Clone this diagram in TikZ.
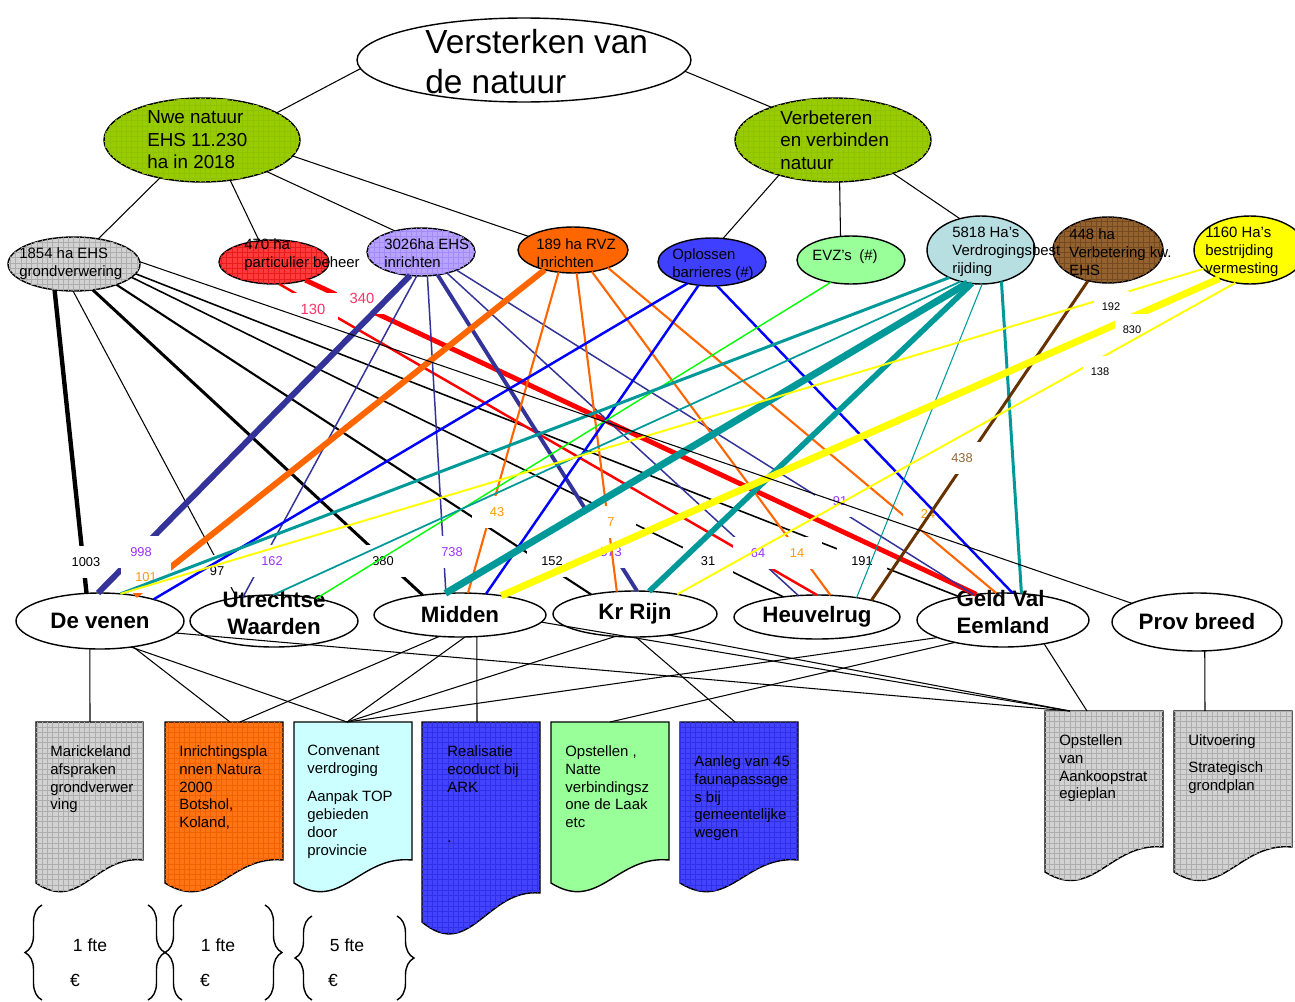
\documentclass[tikz,border=0pt]{standalone}
\usepackage{fontspec}
\setmainfont{Liberation Sans}
\usetikzlibrary{shapes.geometric,patterns,decorations.pathreplacing}

\definecolor{nwegreen}{HTML}{99CC00}
\definecolor{nwegrid}{HTML}{8FC200}
\definecolor{ehsgray}{HTML}{D2D2D2}
\definecolor{ehsgrid}{HTML}{ADADAD}
\definecolor{partred}{HTML}{FF3B3B}
\definecolor{partgrid}{HTML}{E81C1C}
\definecolor{inrpurple}{HTML}{B8A3FF}
\definecolor{inrgrid}{HTML}{A48CF8}
\definecolor{rvzorange}{HTML}{FF6600}
\definecolor{barrblue}{HTML}{3F3FFF}
\definecolor{evzgreen}{HTML}{99FF99}
\definecolor{verdblue}{HTML}{B7DFE2}
\definecolor{kwbrown}{HTML}{93622F}
\definecolor{kwgrid}{HTML}{764A20}
\definecolor{vermyellow}{HTML}{FFFF00}
\definecolor{docorange}{HTML}{FF7414}
\definecolor{docorgrid}{HTML}{F26200}
\definecolor{doccyan}{HTML}{CCFFFF}
\definecolor{docblue}{HTML}{4242FF}
\definecolor{docbluegrid}{HTML}{3030E6}
\definecolor{docgreen}{HTML}{99FF99}
\definecolor{lnpurple}{HTML}{333399}
\definecolor{lnorange}{HTML}{FF6600}
\definecolor{lnteal}{HTML}{009999}
\definecolor{lnbrown}{HTML}{663300}
\definecolor{lnblue}{HTML}{0000FF}
\definecolor{lngreen}{HTML}{00FF00}
\definecolor{lnyellow}{HTML}{FFFF00}
\definecolor{lbpurple}{HTML}{9933FF}
\definecolor{lborange}{HTML}{FF9900}
\definecolor{lbred}{HTML}{FF3366}
\definecolor{lbbrown}{HTML}{996633}

\tikzset{
  ell/.style={ellipse,draw=black,line width=0.8pt,inner sep=0pt,outer sep=0pt},
  hatch/.style={postaction={pattern=grid,pattern color=#1}},
  eltxt/.style={anchor=west,align=left,inner sep=0pt,font=\fontsize{8.5}{10.2}\selectfont},
  region/.style={ellipse,draw=black,fill=white,line width=0.8pt,inner sep=0pt,outer sep=0pt,font=\fontsize{12.7}{15.4}\selectfont\bfseries},
  lbl/.style={fill=white,minimum width=1cm,minimum height=0.64cm,inner sep=0pt,font=\fontsize{7.3}{8.5}\selectfont},
  ylbl/.style={lbl,minimum width=0.7cm,font=\fontsize{6.3}{7.5}\selectfont},
  doc/.style={draw=black,line width=0.8pt},
  doctxt/.style={anchor=north west,align=left,inner sep=0pt,font=\fontsize{8.5}{10.2}\selectfont},
  brace/.style={decorate,decoration={brace,amplitude=0.34cm},line width=0.8pt},
  fte/.style={inner sep=0pt,font=\fontsize{10}{12}\selectfont},
  link/.style={line width=0.6pt}
}

\begin{document}
\begin{tikzpicture}[x=0.02cm,y=-0.02cm]
\useasboundingbox (0,0) rectangle (1295,1001);

% doelen
\node[ell,fill=white,minimum width=6.68cm,minimum height=1.68cm] (versterken) at (524,60) {};
\node[ell,fill=nwegreen,hatch=nwegrid,minimum width=3.92cm,minimum height=1.68cm] (nwe) at (202,140) {};
\node[ell,fill=nwegreen,hatch=nwegrid,minimum width=3.92cm,minimum height=1.68cm] (verb) at (833,140) {};

% maatregelen
\node[ell,fill=ehsgray,hatch=ehsgrid,minimum width=2.64cm,minimum height=1.08cm] (ehs) at (74,264) {};
\node[ell,fill=partred,hatch=partgrid,minimum width=2.2cm,minimum height=0.88cm] (part) at (274,262) {};
\node[ell,fill=inrpurple,hatch=inrgrid,minimum width=2.16cm,minimum height=0.96cm] (inr) at (421,252) {};
\node[ell,fill=rvzorange,minimum width=2.2cm,minimum height=0.92cm] (rvz) at (573,250) {};
\node[ell,fill=barrblue,minimum width=2.16cm,minimum height=0.96cm] (barr) at (712,262) {};
\node[ell,fill=evzgreen,minimum width=2.16cm,minimum height=0.96cm] (evz) at (851,260) {};
\node[ell,fill=verdblue,minimum width=2.16cm,minimum height=1.36cm] (verd) at (981,250) {};
\node[ell,fill=kwbrown,hatch=kwgrid,minimum width=2.2cm,minimum height=1.32cm] (kw) at (1108,250) {};
\node[ell,fill=vermyellow,minimum width=2.24cm,minimum height=1.36cm] (verm) at (1250,250) {};

\node[eltxt,font=\fontsize{19}{22.8}\selectfont] (versterkentxt) at (425,62) {Versterken van\\de natuur};
\node[eltxt,font=\fontsize{10.7}{12.8}\selectfont] (nwetxt) at (147,140) {Nwe natuur\\EHS 11.230\\ha in 2018};
\node[eltxt,font=\fontsize{10.7}{12.8}\selectfont] (verbtxt) at (780,140) {Verbeteren\\en verbinden\\natuur};
\node[eltxt] (ehstxt) at (19,264) {1854 ha EHS\\grondverwering};
\node[eltxt] (parttxt) at (244,255) {470 ha\\particulier beheer};
\node[eltxt] (inrtxt) at (384,253) {3026ha EHS\\inrichten};
\node[eltxt] (rvztxt) at (536,253) {189 ha RVZ\\Inrichten};
\node[eltxt] (barrtxt) at (672,265) {Oplossen\\barrieres (\#)};
\node[eltxt] (evztxt) at (812,257) {EVZ’s\enspace(\#)};
\node[eltxt] (verdtxt) at (952,252) {5818 Ha’s\\Verdrogingsbest\\rijding};
\node[eltxt] (kwtxt) at (1069,252) {448 ha\\Verbetering kw.\\EHS};
\node[eltxt] (vermtxt) at (1205,252) {1160 Ha’s\\bestrijding\\vermesting};

\path[draw,link]
  (versterken.183) edge (nwe.20)
  (versterken.356) edge (verb.152)
  (nwe.222) edge (ehs.46)
  (nwe.305) edge (part.125)
  (nwe.334) edge (inr.141)
  (nwe.350) edge (rvz.163)
  (verb.213) edge (barr.65)
  (verb.279) edge (evz.114)
  (verb.331) edge (verd.124);

% gebieden
\node[region,minimum width=3.36cm,minimum height=1.12cm] (venen) at (100,621) {De venen};
\node[region,minimum width=3.36cm,minimum height=1.04cm] (utr) at (274,621) {\smash{\begin{tabular}{@{}c@{}}Utrechtse\\Waarden\end{tabular}}};
\node[region,minimum width=3.44cm,minimum height=0.88cm] (midden) at (460,615) {Midden};
\node[region,minimum width=3.28cm,minimum height=0.92cm] (krrijn) at (635,614) {Kr Rijn};
\node[region,minimum width=3.32cm,minimum height=0.88cm] (heuvel) at (817,617) {Heuvelrug};
\node[region,minimum width=3.44cm,minimum height=1.08cm] (geld) at (1003,620) {\smash{\begin{tabular}{@{}l@{}}Geld Val\\Eemland\end{tabular}}};
\node[region,minimum width=3.4cm,minimum height=1.16cm] (prov) at (1197,622) {Prov breed};

% grondverwerving
\path[draw,black]
  (ehs.233) edge[line width=2.5pt] (venen.116)
  (ehs.268) edge[line width=0.6pt] (utr.148)
  (ehs.306) edge[line width=1.7pt] (midden.152)
  (ehs.334) edge[line width=1.2pt] (krrijn.156)
  (ehs.347) edge[line width=0.9pt] (heuvel.149)
  (ehs.351) edge[line width=0.9pt] (geld.152);
\node[lbl] (n1003) at (86,562) {1003};
\node[lbl] (n97) at (217,571) {97};
\node[lbl] (n380) at (383,561) {380};
\node[lbl] (n152) at (552,561) {152};
\node[lbl] (n31) at (708,561) {31};
\node[lbl] (n191) at (862,561) {191};

% particulier beheer
\path[draw,red]
  (part.330) edge[line width=2.8pt] (geld.136)
  (part.283) edge[line width=1.4pt] (heuvel.90);
\node[lbl,text=lbred,font=\fontsize{8.4}{10}\selectfont] (n340) at (362,298) {340};
\node[lbl,text=lbred,font=\fontsize{8.4}{10}\selectfont] (n130) at (313,309) {130};

% EHS inrichten
\path[draw,lnpurple]
  (inr.245) edge[line width=3.4pt] (venen.94)
  (inr.260) edge[line width=0.85pt] (utr.142)
  (inr.285) edge[line width=0.85pt] (midden.123)
  (inr.306) edge[line width=2.2pt] (krrijn.85)
  (inr.321) edge[line width=0.85pt] (heuvel.131)
  (inr.333) edge[line width=0.85pt] (geld.139);
\node[lbl,text=lbpurple] (n998) at (141,552) {998};
\node[lbl,text=lbpurple] (n162) at (272,561) {162};
\node[lbl,text=lbpurple] (n738) at (452,552) {738};
\node[lbl,text=lbpurple] (n573) at (611,552) {573};
\node[lbl,text=lbpurple] (n64) at (758,553) {64};
\node[lbl,text=lbpurple] (n91) at (840,501) {91};

% RVZ inrichten
\path[draw,lnorange]
  (rvz.215) edge[line width=3.4pt] (venen.36)
  (rvz.237) edge[line width=1.2pt] (midden.70)
  (rvz.279) edge[line width=1.2pt] (krrijn.129)
  (rvz.311) edge[line width=1.2pt] (heuvel.58)
  (rvz.333) edge[line width=1.2pt] (geld.104);
\node[lbl,text=lborange] (n101) at (146,577) {101};
\node[lbl,text=lborange] (n43) at (497,512) {43};
\node[lbl,text=lborange] (n7) at (611,522) {7};
\node[lbl,text=lborange] (n14) at (797,553) {14};
\node[lbl,text=lborange] (n24) at (928,514) {24};

% barrieres, EVZ
\path[draw,lnblue,line width=1.4pt]
  (barr.221) edge (venen.22)
  (barr.240) edge (midden.39)
  (barr.282) edge (geld.70);
\path[draw,lngreen,line width=0.8pt]
  (evz.228) edge (utr.28);

% verdroging
\path[draw,lnteal]
  (verd.221) edge[line width=1.7pt] (venen.53)
  (verd.237) edge[line width=1pt] (utr.92)
  (verd.248) edge[line width=4pt] (midden.124)
  (verd.255) edge[line width=3.2pt] (krrijn.58)
  (verd.272) edge[line width=0.6pt] (heuvel.26)
  (verd.303) edge[line width=1.7pt] (geld.55);

% kwaliteit EHS
\path[draw,lnbrown,line width=1.7pt]
  (kw.237) edge (heuvel.17);
\node[lbl,text=lbbrown] (n438) at (962,458) {438};

% vermesting
\path[draw,lnyellow,line width=1.1pt] (verm.202) edge (venen.53);
\node[ylbl] (n192) at (1111,307) {192};
\path[draw,lnyellow,line width=4pt] (verm.223) edge (midden.25);
\node[ylbl] (n830) at (1132,330) {830};
\path[draw,lnyellow,line width=1.1pt] (verm.246) edge (krrijn.25);
\node[ylbl] (n138) at (1100,372) {138};

\path[draw,black,line width=0.6pt] (ehs.2) edge (prov.164);

% documenten
\draw[doc,fill=ehsgray,hatch=ehsgrid] (36,722) -- (143,722) -- (143,860) .. controls (95,855) and (80,913) .. (36,883) -- cycle;
\draw[doc,fill=docorange,hatch=docorgrid] (165,722) -- (283,722) -- (283,860) .. controls (230,855) and (213,913) .. (165,883) -- cycle;
\draw[doc,fill=doccyan] (294,722) -- (412,722) -- (412,860) .. controls (359,855) and (342,913) .. (294,883) -- cycle;
\draw[doc,fill=docblue,hatch=docbluegrid] (422,722) -- (540,722) -- (540,893) .. controls (487,888) and (470,962) .. (422,922) -- cycle;
\draw[doc,fill=docgreen] (551,722) -- (669,722) -- (669,860) .. controls (616,855) and (599,913) .. (551,883) -- cycle;
\draw[doc,fill=docblue,hatch=docbluegrid] (680,722) -- (798,722) -- (798,860) .. controls (745,855) and (728,913) .. (680,883) -- cycle;
\draw[doc,fill=ehsgray,hatch=ehsgrid] (1045,711) -- (1163,711) -- (1163,847) .. controls (1110,842) and (1093,902) .. (1045,872) -- cycle;
\draw[doc,fill=ehsgray,hatch=ehsgrid] (1174,711) -- (1292,711) -- (1292,847) .. controls (1239,842) and (1222,902) .. (1174,872) -- cycle;

\coordinate (cMar) at (90,722);
\coordinate (cInrA) at (230,722);
\coordinate (cInrB) at (240,722);
\coordinate (cConv) at (347,722);
\coordinate (cReal) at (477,722);
\coordinate (cNat) at (610,722);
\coordinate (cFauna) at (735,722);
\coordinate (cOps) at (1070,711);
\coordinate (cOpsB) at (1087,711);
\coordinate (cUit) at (1205,711);

\node[doctxt] (mar) at (50,745) {Marickeland\\afspraken\\grondverwer\\ving};
\node[doctxt] (inrpl) at (179,745) {Inrichtingspla\\nnen Natura\\2000\\Botshol,\\Koland,};
\node[doctxt] (conv) at (307,745) {Convenant\\verdroging\\[0.2cm]Aanpak TOP\\gebieden\\door\\provincie};
\node[doctxt] (real) at (447,745) {Realisatie\\ecoduct bij\\ARK\\[0.66cm].};
\node[doctxt] (natte) at (565,745) {Opstellen ,\\Natte\\verbindingsz\\one de Laak\\etc};
\node[doctxt] (fauna) at (694,755) {Aanleg van 45\\faunapassage\\s bij\\gemeentelijke\\wegen};
\node[doctxt] (ops) at (1059,734) {Opstellen\\van\\Aankoopstrat\\egieplan};
\node[doctxt] (uit) at (1188,734) {Uitvoering\\[0.18cm]Strategisch\\grondplan};

\path[draw,link]
  (venen.250) edge (cMar)
  (venen.322) edge (cInrA)
  (venen.320) edge (cConv)
  (venen.351) edge (cOps)
  (midden.226) edge (cInrB)
  (midden.283) edge (cConv)
  (midden.308) edge (cReal)
  (midden.355) edge (cOps)
  (krrijn.229) edge (cConv)
  (krrijn.272) edge (cFauna)
  (krrijn.328) edge (cOps)
  (geld.195) edge (cConv)
  (geld.205) edge (cNat)
  (geld.330) edge (cOpsB)
  (prov.285) edge (cUit);

% capaciteit
\draw[brace] (42,1000) -- (42,905);
\draw[brace] (148,905) -- (148,1000);
\draw[brace] (182,1000) -- (182,905);
\draw[brace] (265,905) -- (265,1000);
\draw[brace] (312,1000) -- (312,916);
\draw[brace] (397,916) -- (397,1000);
\node[fte] (fte1) at (90,945) {1 fte};
\node[fte] (eur1) at (75,980) {€};
\node[fte] (fte2) at (218,945) {1 fte};
\node[fte] (eur2) at (205,980) {€};
\node[fte] (fte3) at (347,945) {5 fte};
\node[fte] (eur3) at (333,980) {€};
\end{tikzpicture}
\end{document}
